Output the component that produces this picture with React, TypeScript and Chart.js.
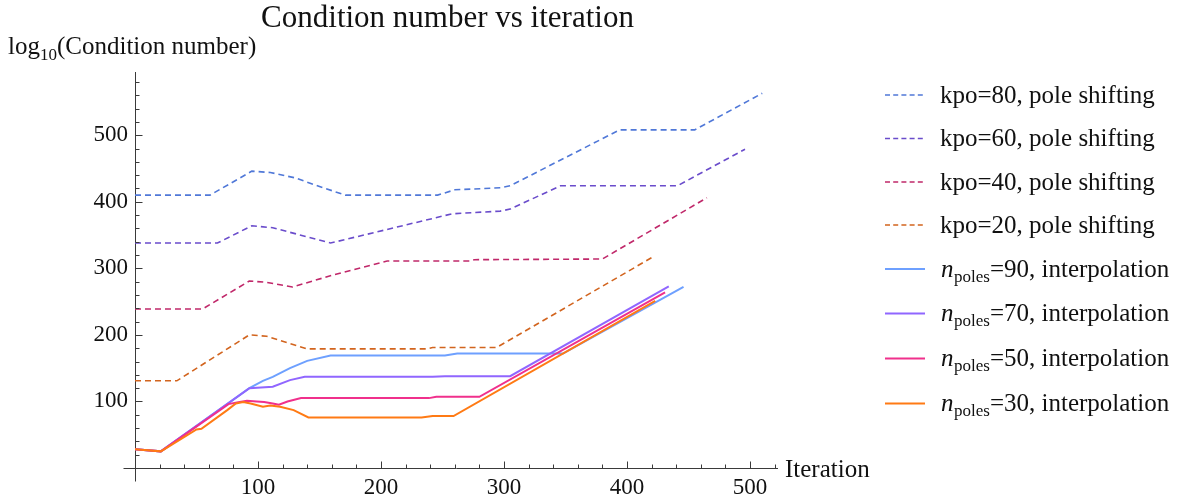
import React, { useEffect, useRef } from 'react';
import { Chart, registerables } from 'chart.js';

Chart.register(...registerables);

// ---- data (iteration, log10 condition number) ----
const kpo80Iter = [0, 61, 95, 110, 130, 150, 171, 246, 260, 297, 305, 394, 455, 510];
const kpo80Vals = [410, 410, 446, 444, 436, 423, 410, 410, 418, 421, 424, 508, 508, 563];

const kpo60Iter = [0, 67, 95, 112, 159, 258, 297, 305, 346, 441, 496];
const kpo60Vals = [338, 338, 364, 361, 338, 382, 386, 389, 424, 424, 479];

const kpo40Iter = [0, 55, 93, 107, 128, 161, 205, 272, 276, 380, 465];
const kpo40Vals = [239, 239, 281, 279, 272, 290, 311, 311, 313, 314, 406];

const kpo20Iter = [0, 34, 93, 107, 140, 237, 242, 294, 421];
const kpo20Vals = [131, 131, 200, 198, 179, 179, 181, 181, 317];

const n90Iter = [0, 21, 93, 104, 112, 126, 140, 159, 252, 262, 348, 446];
const n90Vals = [28, 25, 120, 131, 137, 150, 161, 169, 169, 172, 172, 272];

const n70Iter = [0, 21, 93, 112, 126, 138, 242, 252, 305, 434];
const n70Vals = [28, 25, 120, 122, 132, 137, 137, 138, 138, 273];

const n50Iter = [0, 21, 76, 84, 91, 99, 105, 112, 117, 124, 135, 239, 245, 280, 431];
const n50Vals = [28, 25, 96, 99, 101, 100, 99, 97, 95, 100, 105, 105, 107, 107, 264];

const n30Iter = [0, 21, 50, 54, 75, 82, 88, 94, 104, 110, 118, 129, 141, 233, 242, 259, 423];
const n30Vals = [28, 25, 58, 59, 87, 97, 99, 97, 92, 94, 92, 87, 76, 76, 78, 78, 251];

const seriesIters = [kpo80Iter, kpo60Iter, kpo40Iter, kpo20Iter, n90Iter, n70Iter, n50Iter, n30Iter];
const seriesVals = [kpo80Vals, kpo60Vals, kpo40Vals, kpo20Vals, n90Vals, n70Vals, n50Vals, n30Vals];
const seriesKind = ['kpo', 'kpo', 'kpo', 'kpo', 'npoles', 'npoles', 'npoles', 'npoles'];
const seriesParam = ['80', '60', '40', '20', '90', '70', '50', '30'];
const seriesColors = ['#5078D8', '#6A4CCB', '#C0286A', '#D2641E', '#6EA0FF', '#9066FF', '#F0308C', '#FF7A14'];

const xTickLabels = [100, 200, 300, 400, 500];
const yTickLabels = [100, 200, 300, 400, 500];
const xMinorTicks = [20, 40, 60, 80, 120, 140, 160, 180, 220, 240, 260, 280, 320, 340, 360, 380, 420, 440, 460, 480, 520];
const yMinorTicks = [20, 40, 60, 80, 120, 140, 160, 180, 220, 240, 260, 280, 320, 340, 360, 380, 420, 440, 460, 480, 520, 540, 560, 580];

const titleText = 'Condition number vs iteration';
const xAxisTitle = 'Iteration';

const SERIF = '"Liberation Serif", "Times New Roman", serif';
const AXIS = '#3a3a3a';

function labelFor(i: number) {
  return seriesKind[i] === 'kpo'
    ? `kpo=${seriesParam[i]}, pole shifting`
    : `npoles=${seriesParam[i]}, interpolation`;
}

const overlayPlugin = {
  id: 'overlay',
  afterLayout(chart: any) {
    // centre the title over the same span as the reference (axis overhang to axis end)
    const t = chart.titleBlock;
    if (t) {
      t.left = 118;
      t.right = chart.chartArea.right;
      t.width = t.right - t.left;
    }
  },
  afterDraw(chart: any) {
    const { ctx, scales } = chart;
    const xs = scales.x;
    const ys = scales.y;
    const x0 = Math.round(xs.getPixelForValue(0)) + 0.5;
    const y0 = Math.round(ys.getPixelForValue(0)) + 0.5;
    ctx.save();
    ctx.strokeStyle = AXIS;
    ctx.lineWidth = 1;
    ctx.setLineDash([]);
    ctx.beginPath();
    // axis overhang past the origin
    ctx.moveTo(x0 - 12, y0);
    ctx.lineTo(x0, y0);
    ctx.moveTo(x0, y0);
    ctx.lineTo(x0, y0 + 13);
    // x ticks (pointing up)
    xTickLabels.forEach((v) => {
      const px = Math.round(xs.getPixelForValue(v)) + 0.5;
      ctx.moveTo(px, y0);
      ctx.lineTo(px, y0 - 7);
    });
    xMinorTicks.forEach((v) => {
      const px = Math.round(xs.getPixelForValue(v)) + 0.5;
      ctx.moveTo(px, y0);
      ctx.lineTo(px, y0 - 4);
    });
    // y ticks (pointing right)
    yTickLabels.forEach((v) => {
      const py = Math.round(ys.getPixelForValue(v)) + 0.5;
      ctx.moveTo(x0, py);
      ctx.lineTo(x0 + 7, py);
    });
    yMinorTicks.forEach((v) => {
      const py = Math.round(ys.getPixelForValue(v)) + 0.5;
      ctx.moveTo(x0, py);
      ctx.lineTo(x0 + 4, py);
    });
    ctx.stroke();

    // axis titles
    ctx.fillStyle = '#111';
    ctx.textAlign = 'left';
    ctx.textBaseline = 'alphabetic';
    ctx.font = `25px ${SERIF}`;
    ctx.fillText(xAxisTitle, xs.right + 8, y0 + 8);

    let tx = 8;
    const tb = 54;
    ctx.font = `25px ${SERIF}`;
    ctx.fillText('log', tx, tb);
    tx += ctx.measureText('log').width;
    ctx.font = `17px ${SERIF}`;
    ctx.fillText('10', tx, tb + 6);
    tx += ctx.measureText('10').width;
    ctx.font = `25px ${SERIF}`;
    ctx.fillText('(Condition number)', tx, tb);

    // legend
    const rowsY = [95, 138.5, 182, 225, 269, 313.5, 358.5, 403.5];
    chart.data.datasets.forEach((ds: any, i: number) => {
      const ry = rowsY[i];
      ctx.strokeStyle = ds.borderColor;
      ctx.lineWidth = ds.borderWidth;
      ctx.setLineDash(ds.borderDash && ds.borderDash.length ? [5, 3.2] : []);
      ctx.beginPath();
      ctx.moveTo(885, ry);
      ctx.lineTo(925, ry);
      ctx.stroke();
      ctx.setLineDash([]);
      ctx.fillStyle = '#111';
      const base = ry + 7.5;
      if (seriesKind[i] === 'kpo') {
        ctx.font = `25px ${SERIF}`;
        ctx.fillText(`kpo=${seriesParam[i]}, pole shifting`, 940, base);
      } else {
        let lx = 941;
        ctx.font = `italic 25px ${SERIF}`;
        ctx.fillText('n', lx, base);
        lx += ctx.measureText('n').width + 0.5;
        ctx.font = `17px ${SERIF}`;
        ctx.fillText('poles', lx, base + 5);
        lx += ctx.measureText('poles').width;
        ctx.font = `25px ${SERIF}`;
        ctx.fillText(`=${seriesParam[i]}, interpolation`, lx, base);
      }
    });
    ctx.restore();
  },
};

export default function App() {
  const canvasRef = useRef<HTMLCanvasElement | null>(null);

  useEffect(() => {
    if (!canvasRef.current) return;
    const datasets = seriesIters.map((iters, i) => ({
      label: labelFor(i),
      data: iters.map((x, j) => ({ x, y: seriesVals[i][j] })),
      borderColor: seriesColors[i],
      backgroundColor: seriesColors[i],
      borderWidth: seriesKind[i] === 'kpo' ? 1.6 : 2,
      borderDash: seriesKind[i] === 'kpo' ? [6, 4] : [],
      pointRadius: 0,
      fill: false,
      tension: 0,
      order: 7 - i,
    }));

    const chart = new Chart(canvasRef.current, {
      type: 'line',
      data: { datasets },
      options: {
        animation: false,
        responsive: true,
        maintainAspectRatio: false,
        layout: { padding: { left: 0, right: 406, top: 0, bottom: 0 } },
        plugins: {
          legend: { display: false },
          tooltip: { enabled: false },
          title: {
            display: true,
            text: titleText,
            color: '#111',
            font: { family: SERIF, size: 31, weight: 'normal', lineHeight: 1.2 },
            padding: { top: 0, bottom: 34.8 },
          },
        },
        scales: {
          x: {
            type: 'linear',
            position: 'bottom',
            min: 0,
            max: 522,
            afterBuildTicks: (s: any) => {
              s.ticks = xTickLabels.map((v) => ({ value: v }));
            },
            afterFit: (s: any) => {
              s.height = 29;
            },
            grid: { display: false, drawTicks: false },
            border: { display: true, color: AXIS, width: 1 },
            ticks: {
              color: '#111',
              font: { family: SERIF, size: 23 },
              padding: 6,
              autoSkip: false,
              maxRotation: 0,
              callback: (v: any) => String(v),
            },
          },
          y: {
            type: 'linear',
            position: 'left',
            min: 0,
            max: 595,
            afterBuildTicks: (s: any) => {
              s.ticks = yTickLabels.map((v) => ({ value: v }));
            },
            afterFit: (s: any) => {
              s.width = 135;
            },
            grid: { display: false, drawTicks: false },
            border: { display: true, color: AXIS, width: 1 },
            ticks: {
              color: '#111',
              font: { family: SERIF, size: 23 },
              padding: 7,
              autoSkip: false,
              callback: (v: any) => String(v),
            },
          },
        },
      },
      plugins: [overlayPlugin],
    } as any);
    return () => chart.destroy();
  }, []);

  return (
    <div style={{ position: 'absolute', left: 0, top: 0, width: 1183, height: 497, background: '#fff' }}>
      <canvas ref={canvasRef} />
    </div>
  );
}
